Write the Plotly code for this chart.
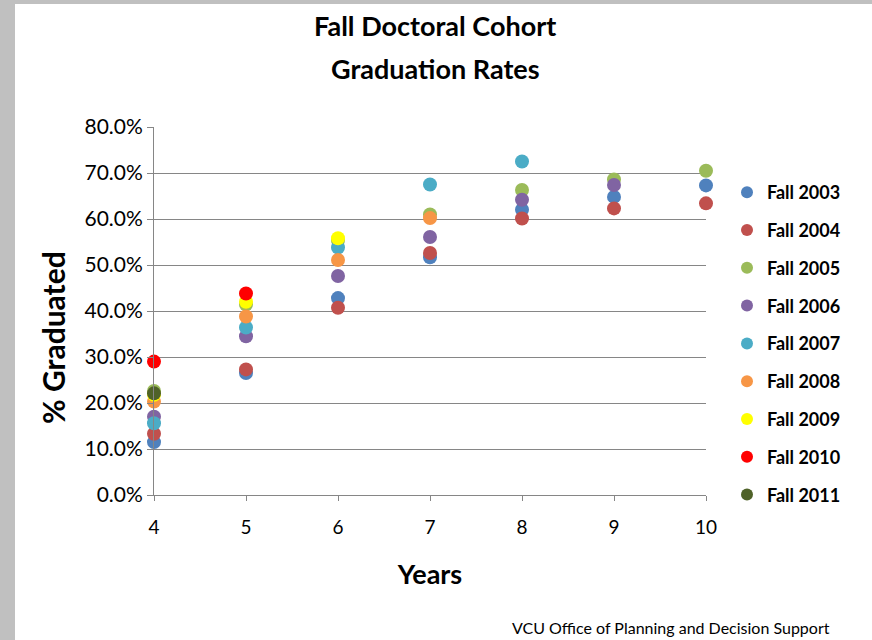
import plotly.graph_objects as go

years = [4, 5, 6, 7, 8, 9, 10]
cohorts = ["Fall 2003", "Fall 2004", "Fall 2005", "Fall 2006", "Fall 2007",
           "Fall 2008", "Fall 2009", "Fall 2010", "Fall 2011"]
fall_2003 = [11.5, 26.5, 42.8, 51.7, 62.0, 64.8, 67.3]
fall_2004 = [13.3, 27.3, 40.7, 52.6, 60.1, 62.3, 63.4]
fall_2005 = [22.6, 41.4, 55.3, 61.0, 66.3, 68.6, 70.5]
fall_2006 = [17.0, 34.5, 47.6, 56.1, 64.2, 67.4]
fall_2007 = [15.6, 36.4, 53.8, 67.5, 72.5]
fall_2008 = [20.3, 38.8, 51.1, 60.2]
fall_2009 = [21.8, 42.0, 55.8]
fall_2010 = [29.0, 43.8]
fall_2011 = [22.1]
series = [fall_2003, fall_2004, fall_2005, fall_2006, fall_2007,
          fall_2008, fall_2009, fall_2010, fall_2011]
colors = ["#4F81BD", "#C0504D", "#9BBB59", "#8064A2", "#4BACC6",
          "#F79646", "#FFFF00", "#FF0000", "#4F6228"]

W, H = 872, 640
L, R, T, B = 154, 706, 127, 495
pw, ph = R - L, B - T

def px(x):
    return (x - L) / pw

def py(y):
    return (B - y) / ph

FONT = "Lato"
fig = go.Figure()
for name, vals, c in zip(cohorts, series, colors):
    fig.add_trace(go.Scatter(
        x=years[:len(vals)], y=vals, name=name, mode="markers",
        marker=dict(size=14, color=c), cliponaxis=False, legendgroup=name))

fig.update_layout(
    width=W, height=H,
    margin=dict(l=L, r=W - R, t=T, b=H - B, autoexpand=False),
    paper_bgcolor="white", plot_bgcolor="white",
    font=dict(family=FONT, color="black"),
    showlegend=True,
    legend=dict(x=px(727), y=py(174), xanchor="left", yanchor="top",
                font=dict(size=18, family=FONT, color="black", weight="bold"),
                itemsizing="constant", tracegroupgap=11.4, traceorder="grouped",
                bgcolor="rgba(0,0,0,0)"),
    xaxis=dict(range=[4, 10], dtick=1, tick0=4, showgrid=False,
               showline=True, linecolor="#868686", linewidth=1,
               ticks="outside", ticklen=5, tickcolor="#868686",
               ticklabelstandoff=10,
               tickfont=dict(size=19, family=FONT), zeroline=False,
               title=dict(text="Years", font=dict(size=27, family=FONT, weight="bold"), standoff=28)),
    yaxis=dict(range=[0, 80], dtick=10, tickformat=".1f", ticksuffix="%",
               showgrid=True, gridcolor="#868686", gridwidth=1,
               showline=True, linecolor="#868686", linewidth=1,
               ticks="outside", ticklen=6, tickcolor="#868686",
               tickfont=dict(size=21, family=FONT), zeroline=False),
)

# gray frame at the top and left edges
fig.add_shape(type="rect", xref="paper", yref="paper",
              x0=px(0), x1=px(15), y0=py(H), y1=py(0),
              fillcolor="#C0C0C0", line_width=0, layer="below")
fig.add_shape(type="rect", xref="paper", yref="paper",
              x0=px(0), x1=px(W), y0=py(4), y1=py(0),
              fillcolor="#C0C0C0", line_width=0, layer="below")

fig.add_annotation(text="% Graduated", xref="paper", yref="paper",
                   x=px(53), y=py(338), xanchor="center", yanchor="middle",
                   textangle=-90, showarrow=False,
                   font=dict(size=30, family=FONT, weight="bold"))
fig.add_annotation(text="Fall Doctoral Cohort", xref="paper", yref="paper",
                   x=px(435), y=py(25), yanchor="middle", showarrow=False,
                   font=dict(size=27, family=FONT, weight="bold"))
fig.add_annotation(text="Graduation Rates", xref="paper", yref="paper",
                   x=px(435), y=py(68), yanchor="middle", showarrow=False,
                   font=dict(size=27, family=FONT, weight="bold"))
fig.add_annotation(text="VCU Office of Planning and Decision Support", xref="paper", yref="paper",
                   x=px(832), y=py(627), xanchor="right", yanchor="middle", showarrow=False,
                   font=dict(size=16, family=FONT))

fig.write_html("out.html", config={"displayModeBar": False},
               post_script="document.body.style.margin='0';document.body.style.overflow='hidden';")
